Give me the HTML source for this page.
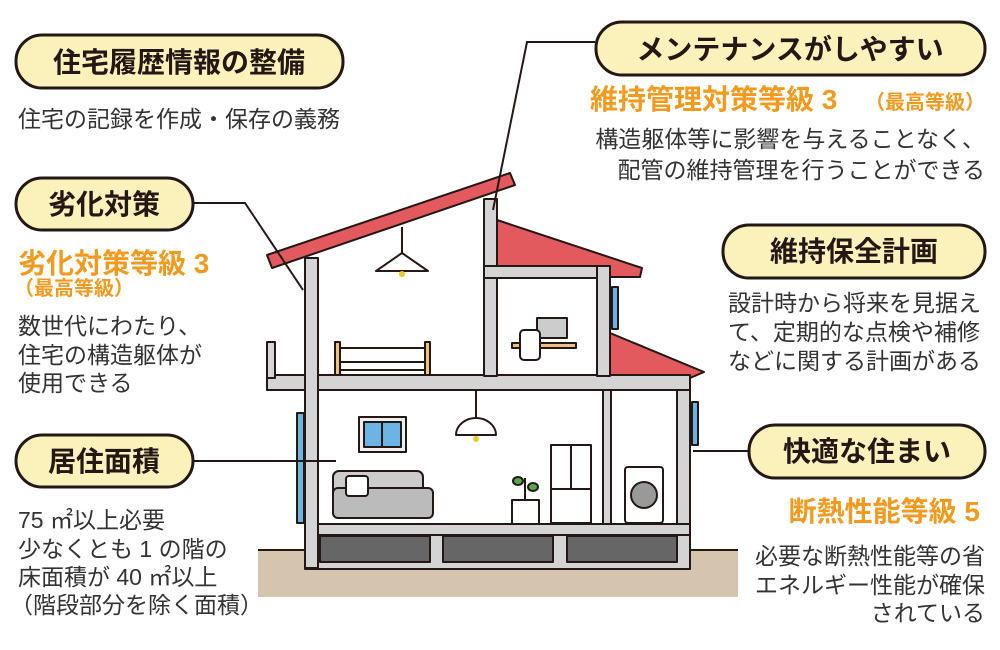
<!DOCTYPE html>
<html><head><meta charset="utf-8"><style>
html,body{margin:0;padding:0;background:#fff;}
svg{display:block;}
text{font-family:"Liberation Sans","Noto Sans CJK JP",sans-serif;fill:#231815;}
.p{font-size:28px;font-weight:bold;text-anchor:middle;}
.b{font-size:23px;fill:#333;}
.o{font-weight:bold;fill:#f29a1e;}
</style></head><body>
<svg width="1000" height="650" viewBox="0 0 1000 650" xmlns="http://www.w3.org/2000/svg">
<rect x="258" y="550" width="480" height="47" fill="#d6c5ae"/>
<line x1="258" y1="550" x2="738" y2="550" stroke="#231815" stroke-width="2"/>
<g stroke="#231815" stroke-width="2" stroke-linejoin="round">
<polygon points="497,220 642,268 640,277 497,277" fill="#e35a5e"/>
<polygon points="610,333 704,372 690,378 610,378" fill="#e35a5e"/>
<rect x="305" y="533" width="385" height="36" fill="#d4d4d4"/>
<rect x="320" y="536" width="110" height="26" fill="#666"/>
<rect x="443" y="536" width="110" height="26" fill="#666"/>
<rect x="567" y="536" width="110" height="26" fill="#666"/>
<rect x="305" y="524" width="385" height="11" fill="#d4d4d4"/>
<rect x="267" y="375" width="423" height="15" fill="#d4d4d4"/>
<rect x="267" y="342" width="8" height="36" fill="#d4d4d4"/>
<rect x="305" y="258" width="13" height="310" fill="#d4d4d4"/>
<rect x="484" y="199" width="13" height="177" fill="#d4d4d4"/>
<rect x="484" y="266" width="126" height="12" fill="#d4d4d4"/>
<rect x="597" y="266" width="13" height="110" fill="#d4d4d4"/>
<rect x="603" y="390" width="8" height="134" fill="#d4d4d4"/>
<rect x="677" y="390" width="13" height="134" fill="#d4d4d4"/>
<rect x="612" y="287" width="6" height="42" fill="#6cb4e4"/>
<rect x="692" y="402" width="6" height="43" fill="#6cb4e4"/>
<rect x="297" y="413" width="7" height="110" fill="#6cb4e4"/>
<rect x="359" y="417" width="47" height="35" fill="#eee"/>
<rect x="364" y="422" width="37" height="25" fill="#6cb4e4"/>
<line x1="382" y1="422" x2="382" y2="447"/>
<polygon points="267,255 510,173 515,185 272,268" fill="#e35a5e"/>
<line x1="402" y1="227" x2="402" y2="253"/>
<polygon points="402,253 376,271 428,271" fill="#fff"/>
<circle cx="402" cy="274" r="3" fill="#f3c624" stroke="none"/>
<line x1="476" y1="390" x2="476" y2="418"/>
<path d="M456,435 a20,17 0 0 1 40,0 z" fill="#fff"/>
<circle cx="476" cy="439" r="3" fill="#f3c624" stroke="none"/>
<rect x="335" y="342" width="5" height="33" fill="#f0c080"/>
<rect x="425" y="342" width="5" height="33" fill="#f0c080"/>
<rect x="340" y="348" width="85" height="14" fill="#fff"/>
<rect x="340" y="362" width="85" height="8" fill="#fff"/>
<rect x="537" y="318" width="30" height="20" fill="#ccc"/>
<rect x="512" y="343" width="64" height="5" fill="#f0c080"/>
<rect x="520" y="330" width="20" height="30" rx="4" fill="#fff"/>
<rect x="333" y="471" width="90" height="40" rx="6" fill="#ccc"/>
<rect x="333" y="488" width="100" height="30" rx="5" fill="#bbb"/>
<rect x="346" y="476" width="22" height="20" rx="3" fill="#fff"/>
<rect x="512" y="500" width="27" height="24" fill="#fff"/>
<line x1="525" y1="500" x2="525" y2="478"/>
<ellipse cx="518" cy="481" rx="5" ry="4" fill="#5aa54a"/>
<ellipse cx="533" cy="487" rx="5" ry="4" fill="#5aa54a"/>
<rect x="551" y="445" width="40" height="78" fill="#fff"/>
<line x1="551" y1="489" x2="591" y2="489"/>
<line x1="571" y1="445" x2="571" y2="489"/>
<rect x="625" y="467" width="38" height="56" rx="3" fill="#fff"/>
<circle cx="644" cy="495" r="13" fill="#999"/>
</g>
<g stroke="#231815" stroke-width="2" fill="none">
<polyline points="193,203 245,203 303,290"/>
<polyline points="595,42 527,42 493,210"/>
<line x1="193" y1="461" x2="336" y2="461"/>
<line x1="748" y1="451" x2="693" y2="451"/>
</g>
<g fill="#fbf1bb" stroke="#231815" stroke-width="3">
<rect x="16" y="35" width="327" height="53" rx="26"/>
<rect x="16" y="178" width="177" height="52" rx="26"/>
<rect x="596" y="22" width="389" height="53" rx="26"/>
<rect x="723" y="225" width="262" height="53" rx="26"/>
<rect x="16" y="435" width="177" height="52" rx="26"/>
<rect x="749" y="425" width="236" height="53" rx="26"/>
</g>
<text class="p" x="179" y="72">住宅履歴情報の整備</text>
<text class="p" x="104" y="214">劣化対策</text>
<text class="p" x="790" y="59">メンテナンスがしやすい</text>
<text class="p" x="854" y="261">維持保全計画</text>
<text class="p" x="104" y="471">居住面積</text>
<text class="p" x="867" y="461">快適な住まい</text>

<text class="b" x="18" y="127">住宅の記録を作成・保存の義務</text>
<text class="o" x="18" y="273" font-size="28">劣化対策等級 3</text>
<text class="o" x="14" y="295" font-size="20">（最高等級）</text>
<text class="b" x="18" y="334">数世代にわたり、</text>
<text class="b" x="18" y="363">住宅の構造躯体が</text>
<text class="b" x="18" y="391">使用できる</text>
<text class="b" x="18" y="528">75 ㎡以上必要</text>
<text class="b" x="18" y="557">少なくとも 1 の階の</text>
<text class="b" x="18" y="585">床面積が 40 ㎡以上</text>
<text class="b" x="10" y="613">（階段部分を除く面積）</text>

<text class="o" x="590" y="109" font-size="28">維持管理対策等級 3</text>
<text class="o" x="865" y="109" font-size="20">（最高等級）</text>
<text class="b" x="985" y="147" text-anchor="end">構造躯体等に影響を与えることなく、</text>
<text class="b" x="985" y="178" text-anchor="end">配管の維持管理を行うことができる</text>
<text class="b" x="728" y="311">設計時から将来を見据え</text>
<text class="b" x="728" y="340">て、定期的な点検や補修</text>
<text class="b" x="728" y="369">などに関する計画がある</text>
<text class="o" x="980" y="521" font-size="28" text-anchor="end">断熱性能等級 5</text>
<text class="b" x="985" y="564" text-anchor="end">必要な断熱性能等の省</text>
<text class="b" x="985" y="593" text-anchor="end">エネルギー性能が確保</text>
<text class="b" x="985" y="621" text-anchor="end">されている</text>
</svg>
</body></html>
